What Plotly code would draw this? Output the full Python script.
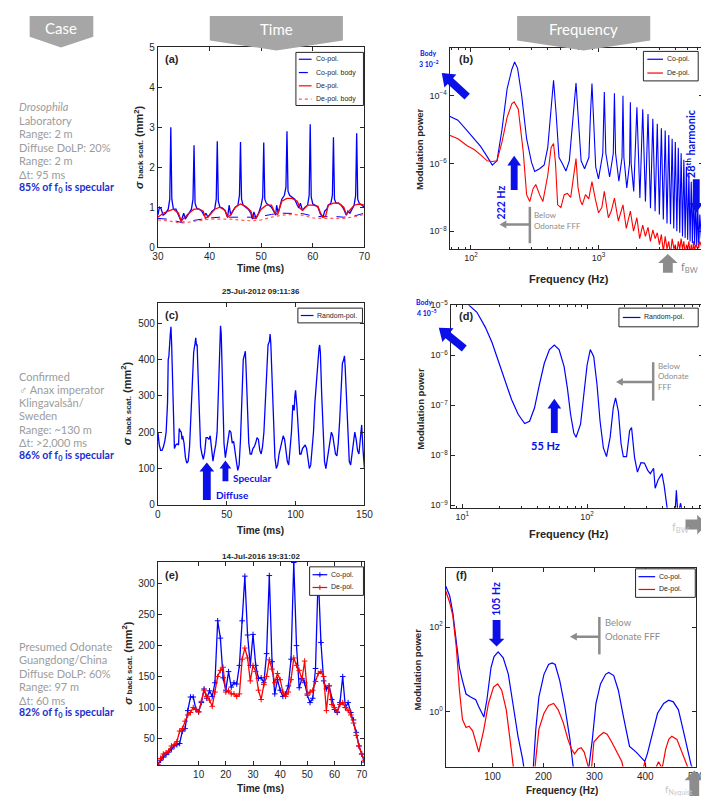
import math
import plotly.graph_objects as go

W, H = 709, 796
def X(p): return p / W
def Y(p): return 1 - p / H

BLUE = '#0000ff'
RED = '#ff0000'
ABLUE = '#0b10e8'
GRAY = '#a6a6a6'
AGRAY = '#8c8c8c'
AX = '#262626'
TXTF = 'Lato'
AXF = 'Liberation Sans'

# ---------------- data: panel (a) ----------------
a_time_co = [30, 30.3, 30.6, 31, 31.5, 32, 32.3, 32.5, 32.7, 33,
             33.5, 34, 34.5, 35, 35.3, 35.7, 36, 36.5, 36.8, 37,
             37.2, 37.5, 38, 38.5, 39, 39.3, 39.7, 40, 40.5, 41,
             41.3, 41.5, 41.7, 42, 42.5, 43, 43.5, 43.8, 44.1, 44.5,
             45, 45.5, 45.8, 46, 46.2, 46.5, 47, 47.5, 48, 48.3,
             48.6, 49, 49.5, 50, 50.3, 50.5, 50.7, 51, 51.5, 52,
             52.5, 52.8, 53, 53.3, 53.7, 54, 54.5, 54.8, 55, 55.2,
             55.5, 56, 56.5, 57, 57.3, 57.6, 58, 58.5, 59, 59.3,
             59.5, 59.7, 60, 60.5, 61, 61.5, 62, 62.3, 62.7, 63,
             63.5, 63.8, 64, 64.2, 64.5, 65, 65.5, 66, 66.5, 66.8,
             67.2, 67.6, 68, 68.3, 68.5, 68.7, 69, 69.5, 70]
a_co = [0.8, 1.0, 0.97, 0.8, 0.85, 0.95, 1.2, 3.0, 1.2, 0.95,
        0.95, 0.8, 0.65, 0.85, 0.7, 0.78, 0.85, 0.95, 1.2, 2.55,
        1.1, 0.98, 0.95, 0.9, 0.78, 0.85, 0.75, 0.8, 0.9, 0.95,
        1.2, 2.65, 1.15, 1.0, 0.98, 0.92, 0.75, 1.05, 0.8, 0.9,
        1.0, 1.05, 1.3, 2.63, 1.2, 1.05, 1.0, 0.95, 0.85, 0.7,
        0.88, 0.72, 0.85, 1.05, 1.25, 2.62, 1.2, 1.1, 1.05, 1.0,
        0.88, 0.8, 1.05, 0.85, 1.05, 1.2, 1.3, 1.5, 2.9, 1.4,
        1.3, 1.25, 1.2, 1.05, 0.98, 1.1, 0.92, 1.0, 1.05, 1.3,
        3.08, 1.25, 1.08, 1.05, 1.0, 0.82, 0.75, 0.9, 0.95, 1.05,
        1.1, 1.3, 2.75, 1.2, 1.1, 1.1, 1.05, 0.95, 0.8, 0.9,
        0.85, 0.95, 1.05, 1.3, 2.85, 1.2, 1.1, 1.05, 1.0]
a_time_de = [30, 31, 32, 33, 34, 34.5, 35, 36, 37, 38,
             38.8, 39.2, 40, 41, 42, 43, 43.5, 44, 45, 46,
             47, 48, 48.5, 49, 50, 51, 52, 52.7, 53.2, 54,
             55, 56, 57, 57.5, 58, 59, 60, 61, 61.5, 62,
             62.5, 63, 64, 65, 66, 66.5, 67, 68, 69, 70]
a_de = [0.75, 0.85, 0.9, 0.95, 0.85, 0.65, 0.72, 0.85, 0.95, 0.95,
        0.9, 0.72, 0.8, 0.95, 1.0, 0.92, 0.75, 0.8, 1.0, 1.08,
        1.02, 0.9, 0.72, 0.72, 0.95, 1.05, 1.05, 0.85, 0.82, 1.15,
        1.22, 1.22, 1.15, 0.98, 0.92, 1.05, 1.05, 1.02, 0.85, 0.75,
        0.78, 1.05, 1.1, 1.1, 1.0, 0.82, 0.9, 1.05, 1.08, 1.05]
a_time_body = [30, 32, 34.5, 36, 38, 40, 42, 44, 46, 48, 50, 52, 54, 56, 58, 60, 62, 64, 66, 68, 70]
a_co_body = [0.72, 0.7, 0.62, 0.65, 0.7, 0.73, 0.75, 0.75, 0.75, 0.75, 0.77, 0.82, 0.85, 0.85, 0.84,
             0.78, 0.76, 0.77, 0.75, 0.78, 0.85]
a_de_body = [0.68, 0.66, 0.6, 0.63, 0.67, 0.7, 0.7, 0.7, 0.68, 0.66, 0.68, 0.75, 0.8, 0.82, 0.8,
             0.73, 0.72, 0.72, 0.72, 0.76, 0.82]

# ---------------- data: panel (b) ----------------
b_freq_co = [68, 79, 94, 106, 119, 134, 147, 160, 175, 192,
             209, 220, 232, 250, 273, 298, 316, 345, 375, 400,
             420, 444, 465, 490, 520, 555, 590, 640, 666, 690,
             730, 777, 840, 865, 888, 910, 950, 999, 1080, 1110,
             1140, 1221, 1305, 1332, 1360, 1443, 1528, 1554, 1580, 1665,
             1750, 1776, 1802, 1887, 1998, 2109, 2220, 2331, 2442, 2553,
             2664, 2775, 2886, 2997, 3108, 3219, 3330, 3441, 3552, 3663,
             3774, 3885, 3996, 4107, 4218, 4329, 4440, 4551, 4662, 4773,
             4884, 4995, 5106, 5217, 5328, 5439, 5550, 5661, 5772, 5883,
             5994, 6105, 6216, 6400, 6600]
b_co = [2.5e-5, 1.9e-5, 9e-6, 5.4e-6, 3.2e-6, 1.6e-6, 9e-7, 1.2e-6, 1e-5, 1.6e-4,
        6e-4, 1e-3, 6.5e-4, 1e-4, 5.4e-6, 1.1e-6, 5.8e-7, 7e-7, 9e-7, 3e-6,
        3e-5, 2.9e-4, 3e-5, 1.5e-6, 1e-6, 6e-7, 1.2e-6, 3e-5, 2.4e-4, 3e-5,
        1.2e-6, 7e-7, 1.5e-6, 3e-5, 2.3e-4, 3e-5, 8e-7, 3.5e-7, 2e-6, 1.3e-4,
        2e-6, 4e-7, 2e-6, 1.2e-4, 2e-6, 3e-7, 1.5e-6, 1e-4, 1.5e-6, 1.9e-7,
        1e-6, 6.4e-5, 1e-6, 1.5e-7, 4.6e-5, 9.5e-8, 4e-5, 7.5e-8, 2.9e-5, 4.8e-8,
        2.1e-5, 3.9e-8, 1.5e-5, 3.1e-8, 1.1e-5, 2.2e-8, 9.5e-6, 1.7e-8, 7e-6, 1.6e-8,
        5.4e-6, 1.2e-8, 4.3e-6, 1e-8, 2.9e-6, 9e-9, 2e-6, 7e-9, 1.3e-6, 6.3e-9,
        8e-7, 5.6e-9, 5.1e-7, 5e-9, 2.9e-7, 4.5e-9, 1.7e-7, 4e-9, 9.5e-8, 3.6e-9,
        5.4e-8, 3.2e-9, 3.1e-8, 6e-9, 4e-9]
b_freq_de = [68, 79, 94, 106, 119, 134, 147, 160, 175, 192,
             209, 218, 235, 257, 273, 289, 307, 322, 345, 366,
             400, 425, 444, 460, 478, 507, 538, 570, 605, 640,
             666, 690, 720, 745, 790, 838, 888, 943, 1000, 1061,
             1110, 1194, 1260, 1332, 1429, 1554, 1650, 1776, 1880, 1998,
             2100, 2220, 2330, 2442, 2550, 2664, 2780, 2886, 3000, 3108,
             3220, 3330, 3440, 3552, 3660, 3774, 3900, 3996, 4100, 4218,
             4330, 4440, 4550, 4662, 4773, 4884, 5000, 5106, 5217, 5328,
             5440, 5550, 5660, 5772, 5990, 6216, 6500]
b_de = [6.8e-6, 5.4e-6, 3.3e-6, 2.6e-6, 1.8e-6, 1.2e-6, 1.15e-6, 1.2e-6, 4.3e-6, 2.3e-5,
        5.8e-5, 6.6e-5, 4e-5, 2.2e-6, 1.2e-7, 7.5e-8, 1.8e-7, 2.4e-7, 1.2e-7, 7.5e-8,
        4.5e-7, 3e-6, 3.9e-6, 1e-6, 6e-8, 5e-8, 1.2e-7, 1.3e-7, 1e-7, 6e-7,
        1.4e-6, 2e-7, 8e-8, 6e-8, 1.2e-7, 9e-8, 2.9e-7, 9e-8, 3.5e-8, 5e-8,
        1.5e-7, 2.5e-8, 4e-8, 9.5e-8, 2e-8, 6e-8, 1.2e-8, 3.9e-8, 1e-8, 2.5e-8,
        6e-9, 1.5e-8, 7e-9, 1.3e-8, 5e-9, 1.1e-8, 6e-9, 9e-9, 4e-9, 8e-9,
        2.5e-9, 7e-9, 3e-9, 5e-9, 2e-9, 6e-9, 3e-9, 4e-9, 2e-9, 5e-9,
        3e-9, 6e-9, 3e-9, 5e-9, 2e-9, 4e-9, 3e-9, 5e-9, 2e-9, 4e-9,
        2e-9, 5e-9, 2.5e-9, 4e-9, 3e-9, 5e-9, 3e-9]

# ---------------- data: panel (c) ----------------
c_time = [0, 1, 2, 3, 4, 5, 6, 7, 7.5, 8,
          9, 9.5, 10, 11, 12, 13, 14, 15, 15.5, 16,
          17, 17.5, 18, 19, 20, 21, 22, 23, 24, 25,
          26, 27, 27.5, 28, 28.5, 29, 30, 31, 32, 33,
          34, 35, 36, 37, 38, 39, 40, 41, 42, 43,
          44, 45, 45.5, 46, 47, 48, 49, 50, 51, 52,
          53, 54, 55, 56, 57, 58, 59, 60, 61, 62,
          63, 63.5, 64, 65, 66, 67, 68, 69, 70, 71,
          72, 73, 74, 75, 76, 77, 78, 79, 80, 81,
          81.5, 82, 83, 84, 85, 86, 87, 88, 89, 90,
          91, 92, 93, 94, 95, 96, 97, 98, 99, 99.5,
          100, 101, 102, 103, 104, 105, 106, 107, 108, 109,
          110, 111, 112, 113, 114, 115, 116, 117, 117.5, 118,
          119, 120, 121, 122, 123, 124, 125, 126, 127, 128,
          129, 130, 131, 132, 133, 134, 135, 135.5, 136, 137,
          138, 139, 140, 141, 142, 143, 144, 145, 146, 147,
          148, 149, 150]
c_rand = [200, 165, 150, 150, 160, 175, 200, 280, 400, 410,
          470, 490, 440, 300, 155, 165, 168, 165, 210, 205,
          200, 180, 190, 170, 130, 115, 120, 160, 250, 330,
          420, 445, 460, 440, 440, 380, 250, 160, 140, 125,
          145, 185, 185, 180, 190, 150, 120, 145, 165, 200,
          320, 460, 493, 470, 300, 170, 130, 160, 180, 205,
          200, 170, 175, 140, 120, 95, 110, 180, 280, 400,
          415, 423, 380, 260, 170, 140, 140, 155, 160, 170,
          185, 180, 150, 140, 160, 200, 280, 360, 440, 450,
          470, 445, 350, 220, 130, 100, 110, 140, 160, 175,
          190, 180, 155, 120, 110, 150, 200, 275, 260, 300,
          315, 270, 200, 140, 140, 155, 160, 165, 155, 130,
          100, 110, 150, 200, 280, 340, 400, 430, 440, 420,
          300, 180, 120, 100, 120, 150, 175, 200, 190, 160,
          140, 135, 170, 230, 330, 390, 400, 410, 380, 280,
          170, 120, 110, 140, 170, 200, 180, 150, 140, 180,
          220, 150, 100]

# ---------------- data: panel (d) ----------------
d_freq = [8.1, 9, 10, 11.3, 13.1, 15.3, 17.3, 19.5, 22, 24.8,
          28, 31.6, 34.6, 37.9, 41.5, 45.4, 49.9, 54.6, 59.6, 65.4,
          69.5, 73.7, 78.2, 81.5, 88.6, 94, 99.9, 106, 113, 120,
          127, 135, 143, 153, 162, 169, 178, 187, 195, 207,
          219, 227, 240, 253, 270, 288, 306, 321, 341, 351,
          370, 398, 414, 440, 505, 519, 535, 560, 600, 700, 850]
d_rand = [5e-5, 3e-5, 1.8e-5, 1e-5, 7.2e-6, 3.6e-6, 1.8e-6, 7.4e-7, 3e-7, 1.3e-7,
          6.6e-8, 4.3e-8, 4.8e-8, 8.9e-8, 2.6e-7, 6.9e-7, 1.3e-6, 1.6e-6, 1.3e-6, 5.9e-7,
          2.2e-7, 6.6e-8, 2.8e-8, 2.3e-8, 4.2e-8, 1.6e-7, 6.3e-7, 1.3e-6, 9.3e-7, 2.6e-7,
          4.8e-8, 1.4e-8, 9.4e-9, 2.3e-8, 8.9e-8, 1.4e-7, 7.6e-8, 1.7e-8, 9.4e-9, 9.4e-9,
          3.1e-8, 3.6e-8, 9e-9, 4.6e-9, 7.1e-9, 7e-9, 5e-9, 4.3e-9, 5.5e-9, 2.2e-9,
          3.2e-9, 4.3e-9, 2.5e-9, 8e-10, 6e-10, 2e-9, 6e-10, 1.1e-9, 5e-10, 4e-10, 3e-10]

# ---------------- data: panel (e) ----------------
e_time = list(range(-5, 72))
e_co = [8, 15, 20, 24, 28, 33, 38, 40, 42, 62,
        66, 95, 117, 117, 97, 93, 108, 130, 115, 127,
        118, 140, 240, 212, 148, 128, 158, 133, 140, 138,
        168, 240, 312, 217, 168, 218, 168, 147, 148, 140,
        187, 313, 174, 122, 145, 128, 118, 122, 135, 178,
        334, 200, 132, 147, 140, 120, 108, 115, 163, 316,
        205, 143, 130, 135, 113, 97, 92, 108, 150, 100,
        108, 92, 80, 60, 38, 25, 12]
e_de = [8, 18, 25, 27, 30, 38, 40, 45, 62, 66,
        78, 88, 92, 100, 97, 93, 110, 128, 118, 112,
        102, 125, 150, 160, 165, 125, 127, 122, 122, 118,
        122, 178, 196, 180, 143, 168, 158, 128, 113, 137,
        150, 177, 162, 140, 155, 145, 125, 118, 125, 145,
        180, 168, 160, 145, 175, 122, 125, 128, 142, 155,
        158, 150, 95, 135, 105, 100, 93, 105, 108, 100,
        95, 88, 75, 55, 38, 25, 15]

# ---------------- data: panel (f) ----------------
f_freq_co = [8.3, 16, 22, 29, 35, 41, 48, 57, 67, 73,
             83, 89, 97, 103, 111, 121, 131, 140, 150, 159,
             164, 178, 185, 191, 201, 210, 217, 223, 232, 242,
             252, 258, 261, 287, 296, 303, 312, 322, 328, 338,
             347, 357, 369, 382, 395, 399, 404, 414, 424, 436,
             446, 455, 465, 474, 484, 490, 500]
f_co = [920, 540, 220, 45, 11, 5.4, 2.6, 2.2, 1.9, 1.3,
        0.74, 1.9, 11, 20, 25.7, 18.6, 7.7, 1.55, 0.26, 0.076,
        0.03, 0.02, 0.38, 2.2, 7.6, 13, 14.2, 13, 5.4, 1.3,
        0.22, 0.054, 0.03, 0.03, 0.22, 1.55, 4.5, 7.6, 8.4, 7.1,
        3.2, 0.76, 0.15, 0.11, 0.076, 0.066, 0.1, 0.32, 0.91, 1.55,
        1.86, 1.7, 1.1, 0.38, 0.11, 0.054, 0.03]
f_freq_de = [8.3, 16, 22, 29, 35, 41, 48, 54, 61, 67,
             73, 83, 92, 102, 110, 118, 127, 135, 141, 143,
             170, 182, 185, 191, 201, 210, 220, 229, 239, 248,
             255, 261, 268, 274, 280, 287, 293, 299, 309, 318,
             325, 334, 344, 354, 360, 395, 399, 404, 420, 426,
             433, 440, 446, 452, 462, 471, 481, 490, 500]
f_de = [700, 380, 186, 32, 3.2, 0.65, 0.42, 0.45, 0.35, 0.2,
        0.11, 0.38, 1.55, 3.8, 4.5, 3.2, 1.1, 0.19, 0.052, 0.03,
        0.02, 0.03, 0.076, 0.38, 0.91, 1.4, 1.55, 1.1, 0.54, 0.22,
        0.13, 0.1, 0.13, 0.14, 0.11, 0.054, 0.03, 0.19, 0.26, 0.32,
        0.29, 0.19, 0.11, 0.065, 0.03, 0.04, 0.065, 0.035, 0.045, 0.065,
        0.045, 0.13, 0.22, 0.26, 0.22, 0.11, 0.052, 0.03, 0.02]

# ---------------- figure ----------------
fig = go.Figure()

def line(x, y, ax, color, width=1.2, dash='solid'):
    fig.add_trace(go.Scatter(x=x, y=y, mode='lines', xaxis='x' + ax, yaxis='y' + ax,
                             line=dict(color=color, width=width, dash=dash),
                             showlegend=False, hoverinfo='skip'))

line(a_time_body, a_co_body, '', BLUE, 1.0, 'dash')
line(a_time_body, a_de_body, '', '#ff5a5a', 1.2, 'dot')
line(a_time_co, a_co, '', BLUE, 1.3)
line(a_time_de, a_de, '', RED, 1.3)

line(b_freq_co, b_co, '2', BLUE, 1.1)
line(b_freq_de, b_de, '2', RED, 1.1)

line(c_time, c_rand, '3', BLUE, 1.3)
line(d_freq, d_rand, '4', BLUE, 1.2)

for xs, ys, col in ((e_time, e_co, BLUE), (e_time, e_de, RED)):
    fig.add_trace(go.Scatter(x=xs, y=ys, mode='lines+markers', xaxis='x5', yaxis='y5',
                             line=dict(color=col, width=1.3),
                             marker=dict(symbol='cross-thin', size=4, line=dict(color=col, width=1)),
                             showlegend=False, hoverinfo='skip'))

line(f_freq_co, f_co, '6', BLUE, 1.2)
line(f_freq_de, f_de, '6', RED, 1.2)

# ---------------- axes ----------------
P = {
    '':  (147, 358, 33, 236),
    '2': (445, 704, 34, 238),
    '3': (147, 358, 293, 498),
    '4': (446, 704, 295, 501),
    '5': (147, 358, 556, 762),
    '6': (441, 697, 562, 764),
}

def axis(key, which, rng, typ='linear', tickvals=None, ticktext=None, minor=False, size=10):
    x0, x1, y0, y1 = P[key]
    dom = [X(x0), X(x1)] if which == 'x' else [Y(y1), Y(y0)]
    d = dict(domain=dom, range=rng, type=typ, anchor=('y' if which == 'x' else 'x') + key,
             showline=True, linecolor=AX, linewidth=1, mirror='ticks', ticks='inside',
             ticklen=4, tickwidth=1, tickcolor=AX, showgrid=False, zeroline=False,
             tickfont=dict(family=AXF, size=size, color=AX))
    if tickvals is not None:
        d['tickmode'] = 'array'
        d['tickvals'] = tickvals
        if ticktext is not None:
            d['ticktext'] = ticktext
    if minor:
        d['minor'] = dict(ticks='inside', ticklen=2, tickcolor=AX, dtick='D1', showgrid=False)
    return d

def pw(n):
    return '10<sup>' + ('\u2212' if n < 0 else '') + str(abs(n)) + '</sup>'

a_xticks = [30, 40, 50, 60, 70]
a_yticks = [0, 1, 2, 3, 4, 5]
b_xticks = [100, 1000]
b_yticks = [1e-8, 1e-6, 1e-4]
c_xticks = [0, 50, 100, 150]
c_yticks = [0, 100, 200, 300, 400, 500]
d_xticks = [10, 100]
d_yticks = [1e-9, 1e-8, 1e-7, 1e-6, 1e-5]
e_xticks = [10, 20, 30, 40, 50, 60, 70]
e_yticks = [50, 100, 150, 200, 250, 300]
f_xticks = [100, 200, 300, 400, 500]
f_yticks = [1, 100]

layout_axes = dict(
    xaxis=axis('', 'x', [30, 70], tickvals=a_xticks),
    yaxis=axis('', 'y', [0, 5], tickvals=a_yticks),
    xaxis2=axis('2', 'x', [math.log10(68), math.log10(6600)], 'log', b_xticks, [pw(2), pw(3)], minor=True, size=9),
    yaxis2=axis('2', 'y', [-8.53, -2.6], 'log', b_yticks, [pw(-8), pw(-6), pw(-4)], size=9),
    xaxis3=axis('3', 'x', [0, 150], tickvals=c_xticks),
    yaxis3=axis('3', 'y', [0, 555], tickvals=c_yticks),
    xaxis4=axis('4', 'x', [math.log10(8.05), math.log10(850)], 'log', d_xticks, [pw(1), pw(2)], minor=True, size=9),
    yaxis4=axis('4', 'y', [-9.05, -5.0], 'log', d_yticks, [pw(-9), pw(-8), pw(-7), pw(-6), pw(-5)], size=9),
    xaxis5=axis('5', 'x', [-5, 71], tickvals=e_xticks),
    yaxis5=axis('5', 'y', [8, 335], tickvals=e_yticks),
    xaxis6=axis('6', 'x', [8, 500], tickvals=f_xticks),
    yaxis6=axis('6', 'y', [-1.3, 3.4], 'log', f_yticks, [pw(0), pw(2)], size=9),
)

shapes = []
ann = []

def txt(x, y, s, size=9, color=AX, xa='center', ya='middle', angle=0, family=AXF):
    ann.append(dict(x=X(x), y=Y(y), xref='paper', yref='paper', text=s, showarrow=False,
                    font=dict(size=size, color=color, family=family), xanchor=xa, yanchor=ya,
                    textangle=angle))

def poly(pts, color):
    path = 'M ' + ' L '.join(f'{X(a):.5f},{Y(b):.5f}' for a, b in pts) + ' Z'
    shapes.append(dict(type='path', path=path, xref='paper', yref='paper', fillcolor=color,
                       line=dict(width=0), layer='above'))

def arrow(x0, y0, x1, y1, w, hw, hl, color):
    dx, dy = x1 - x0, y1 - y0
    L = math.hypot(dx, dy)
    ux, uy = dx / L, dy / L
    nx, ny = -uy, ux
    bx, by = x1 - ux * hl, y1 - uy * hl
    pts = [(x0 + nx * w / 2, y0 + ny * w / 2), (bx + nx * w / 2, by + ny * w / 2),
           (bx + nx * hw / 2, by + ny * hw / 2), (x1, y1),
           (bx - nx * hw / 2, by - ny * hw / 2), (bx - nx * w / 2, by - ny * w / 2),
           (x0 - nx * w / 2, y0 - ny * w / 2)]
    poly(pts, color)

def seg(x0, y0, x1, y1, color, width=1, dash='solid'):
    shapes.append(dict(type='line', x0=X(x0), y0=Y(y0), x1=X(x1), y1=Y(y1), xref='paper',
                       yref='paper', line=dict(color=color, width=width, dash=dash), layer='above'))

# ---- header chevrons ----
poly([(16, 1), (81, 1), (81, 22), (48, 33), (16, 22)], GRAY)
poly([(200, 1), (336, 1), (336, 26), (268, 36), (200, 26)], GRAY)
poly([(514, 1), (650, 1), (650, 26), (582, 36), (514, 26)], GRAY)
txt(48, 13, 'Case', 15, 'white', family=TXTF)
txt(268, 14, 'Time', 15, 'white', family=TXTF)
txt(582, 14, 'Frequency', 15, 'white', family=TXTF)

# ---- left column ----
SB = '#2030d0'
LGRAY = '#9c9c9c'
def block(lines, y0, step=13.8):
    for i, (s, blue) in enumerate(lines):
        if blue:
            txt(3, y0 + i * step, '<b>' + s + '</b>', 10.5, SB, xa='left', family=TXTF)
        else:
            txt(3, y0 + i * step, s, 11, LGRAY, xa='left', family=TXTF)

block([('<i>Drosophila</i>', 0), ('Laboratory', 0), ('Range: 2 m', 0), ('Diffuse DoLP: 20%', 0),
       ('Range: 2 m', 0), ('\u0394t: 95 ms', 0), ('85% of f<sub>0</sub> is specular', 1)], 93)
block([('Confirmed', 0), ('\u2642 Anax imperator', 0), ('Klingavals\u00e5n/', 0), ('Sweden', 0),
       ('Range: ~130 m', 0), ('\u0394t: &gt;2,000 ms', 0), ('86% of f<sub>0</sub> is specular', 1)], 367, 13.5)
block([('Presumed Odonate', 0), ('Guangdong/China', 0), ('Diffuse DoLP: 60%', 0), ('Range: 97 m', 0),
       ('\u0394t: 60 ms', 0), ('82% of f<sub>0</sub> is specular', 1)], 642, 13.6)

# ---- axis titles ----
sig = ('<b><i>\u03c3</i></b> <b><span style="font-size:8px">back scat.</span></b> '
       '<b>(mm<sup>2</sup>)</b>')
txt(127, 134, sig, 11, AX, angle=-90)
txt(114, 395, sig, 11, AX, angle=-90)
txt(116, 659, sig, 11, AX, angle=-90)
txt(252, 258, '<b>Time (ms)</b>', 10, AX)
txt(252, 524, '<b>Time (ms)</b>', 10, AX)
txt(252, 786, '<b>Time (ms)</b>', 10, AX)
txt(567, 268, '<b>Frequency (Hz)</b>', 11, AX)
txt(567, 528, '<b>Frequency (Hz)</b>', 11, AX)
txt(560, 788, '<b>Frequency (Hz)</b>', 10, AX)
txt(415, 136, '<b>Modulation power</b>', 9.5, AX, angle=-90)
txt(415, 400, '<b>Modulation power</b>', 9.5, AX, angle=-90)
txt(412, 665, '<b>Modulation power</b>', 9.5, AX, angle=-90)
txt(252, 281, '<b>25-Jul-2012 09:11:36</b>', 8, AX)
txt(252, 550, '<b>14-Jul-2016 19:31:02</b>', 8, AX)

# ---- panel letters ----
for lab, x, y in (('(a)', 152, 45), ('(b)', 453, 45), ('(c)', 152, 305),
                  ('(d)', 453, 306), ('(e)', 152, 569), ('(f)', 449, 569)):
    txt(x, y, '<b>' + lab + '</b>', 11, AX, xa='left')

# ---- legends (drawn) ----
def legend(box, rows, items, lx0, lx1, tx, markers=False):
    x0, y0, x1, y1 = box
    shapes.append(dict(type='rect', x0=X(x0), y0=Y(y1), x1=X(x1), y1=Y(y0), xref='paper',
                       yref='paper', fillcolor='white', line=dict(color=AX, width=1), layer='above'))
    for yy, (lab, col, dash) in zip(rows, items):
        seg(lx0, yy, lx1, yy, col, 1.2, dash)
        if markers:
            xm = (lx0 + lx1) / 2
            seg(xm - 2.5, yy, xm + 2.5, yy, col, 1)
            seg(xm, yy - 2.5, xm, yy + 2.5, col, 1)
        txt(tx, yy, lab, 7, AX, xa='left')

legend((288, 38, 357, 92), [45, 58.5, 72, 85.5],
       [('Co-pol.', BLUE, 'solid'), ('Co-pol. body', BLUE, 'dash'),
        ('De-pol.', RED, 'solid'), ('De-pol. body', '#ff5a5a', 'dot')], 291, 304, 306)
legend((643, 37, 699, 67), [45, 59], [('Co-pol.', BLUE, 'solid'), ('De-pol.', RED, 'solid')], 647, 663, 665)
legend((290, 298, 356, 313), [305.5], [('Random-pol.', BLUE, 'solid')], 293, 306, 308)
legend((618, 298, 699, 317), [307.5], [('Random-pol.', BLUE, 'solid')], 622, 640, 642)
legend((302, 561, 357, 590), [569, 582], [('Co-pol.', BLUE, 'solid'), ('De-pol.', RED, 'solid')],
       305, 320, 322, markers=True)
legend((635, 563, 696, 592), [571, 584], [('Co-pol.', BLUE, 'solid'), ('De-pol.', RED, 'solid')], 638, 655, 657)

# ---- panel (b) annotations ----
txt(423, 39, '<b>Body</b>', 7, ABLUE, family=TXTF)
txt(424, 49, '<b>3 10<sup>\u22122</sup></b>', 7, ABLUE, family=TXTF)
arrow(463, 83, 437, 59, 8, 18, 12, ABLUE)
arrow(511, 178, 511, 143, 7, 14, 10, ABLUE)
txt(497, 190, '<b>222 Hz</b>', 10.5, ABLUE, angle=-90, family=TXTF)
arrow(697, 167, 697, 201, 7, 14, 10, ABLUE)
txt(691, 131, '<b>28<sup>th</sup> harmonic</b>', 11, ABLUE, angle=-90, family=TXTF)
seg(527, 195, 527, 232, AGRAY, 2.5)
arrow(527, 213, 496, 213, 2.5, 8, 7, AGRAY)
txt(529, 203, 'Below', 8, AGRAY, xa='left', family=TXTF)
txt(529, 214, 'Odonate FFF', 8, AGRAY, xa='left', family=TXTF)
arrow(668, 262, 668, 243, 10, 20, 9, AGRAY)
txt(679, 257, 'f<sub>BW</sub>', 11, AGRAY, xa='left', family=TXTF)

# ---- panel (c) annotations ----
arrow(197, 493, 197, 455, 8, 15, 9, ABLUE)
arrow(216, 474, 216, 453, 6, 12, 8, ABLUE)
txt(222, 471, '<b>Specular</b>', 10, ABLUE, xa='left', family=TXTF)
txt(204, 488, '<b>Diffuse</b>', 10, ABLUE, xa='left', family=TXTF)

# ---- panel (d) annotations ----
txt(419, 292, '<b>Body</b>', 7, ABLUE, family=TXTF)
txt(422, 302, '<b>4 10<sup>\u22125</sup></b>', 7, ABLUE, family=TXTF)
arrow(460, 339, 434, 318, 8, 18, 12, ABLUE)
arrow(552, 425, 552, 390, 7, 14, 10, ABLUE)
txt(543, 438, '<b>55 Hz</b>', 11, ABLUE, family=TXTF)
seg(653, 353, 653, 392, AGRAY, 2.5)
arrow(653, 373, 615, 373, 2.5, 8, 7, AGRAY)
txt(656, 357, 'Below', 8, AGRAY, xa='left', family=TXTF)
txt(656, 367, 'Odonate', 8, AGRAY, xa='left', family=TXTF)
txt(656, 378, 'FFF', 8, AGRAY, xa='left', family=TXTF)
arrow(686, 518, 708, 518, 10, 20, 10, AGRAY)
txt(670, 521, 'f<sub>BW</sub>', 11, '#c8c8c8', xa='left', family=TXTF)

# ---- panel (f) annotations ----
arrow(493, 615, 493, 642, 8, 16, 8, ABLUE)
txt(493, 594, '<b>105 Hz</b>', 10.5, ABLUE, angle=-90, family=TXTF)
seg(598, 612, 598, 650, AGRAY, 2.5)
arrow(598, 632, 568, 632, 2.5, 8, 7, AGRAY)
txt(602, 618, 'Below', 9.5, AGRAY, xa='left', family=TXTF)
txt(602, 632, 'Odonate FFF', 9.5, AGRAY, xa='left', family=TXTF)
txt(663, 787, 'f<sub>Nyquist</sub>', 10, '#c8c8c8', xa='left', family=TXTF)
arrow(695, 794, 695, 768, 10, 20, 10, AGRAY)

fig.update_layout(
    width=W, height=H, autosize=False,
    margin=dict(l=0, r=0, t=0, b=0, pad=0),
    paper_bgcolor='white', plot_bgcolor='white',
    showlegend=False,
    font=dict(family=AXF, color=AX),
    shapes=shapes, annotations=ann,
    **layout_axes,
)

fig.write_html('out.html')
